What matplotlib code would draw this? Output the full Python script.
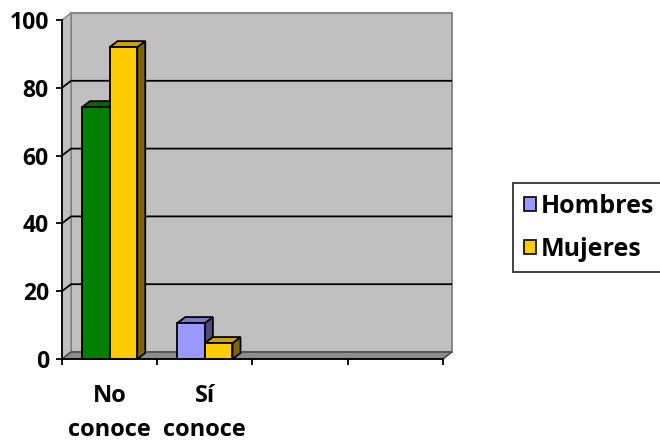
import matplotlib
matplotlib.use("Agg")
import matplotlib.pyplot as plt
from matplotlib.patches import Polygon, Patch

plt.rcParams['font.family'] = ['Open Sans', 'DejaVu Sans']
plt.rcParams['font.weight'] = 'bold'

categories = ["No\nconoce", "Sí\nconoce", "", ""]
series_names = ["Hombres", "Mujeres"]
hombres = [74.3, 10.6]
mujeres = [92.0, 4.7]
series_colors = ["#9999FF", "#FFCC00"]
side_colors = ["#4D4D80", "#806600"]
top_colors = ["#7A7ACC", "#CCA300"]
# the first Hombres bar carries its own point colour
point_override = {(0, 0): ("#008000", "#004000", "#006600")}
y_ticks = [0, 20, 40, 60, 80, 100]

W, H = 660, 443
fig = plt.figure(figsize=(W / 100, H / 100), dpi=100)
ax = fig.add_axes([62 / W, (H - 359) / H, 381 / W, 339 / H])
ncat = len(categories)
ax.set_xlim(0, ncat)
ax.set_ylim(0, 100)

# depth of the walls and of the bars, in data units
px_x = 381 / ncat
px_y = 339 / 100
wdx, wdy = 9 / px_x, 7 / px_y
bdx, bdy = 8 / px_x, 6 / px_y

wall_c = "#C0C0C0"
wall_edge = "#808080"
# back wall
ax.add_patch(Polygon([(wdx, wdy), (ncat + wdx, wdy), (ncat + wdx, 100 + wdy), (wdx, 100 + wdy)],
                     closed=True, facecolor=wall_c, edgecolor=wall_edge, lw=1.3, clip_on=False, zorder=1))
# side wall
ax.add_patch(Polygon([(0, 0), (wdx, wdy), (wdx, 100 + wdy), (0, 100)],
                     closed=True, facecolor=wall_c, edgecolor=wall_edge, lw=1.0, clip_on=False, zorder=1))
# floor
ax.add_patch(Polygon([(0, 0), (ncat, 0), (ncat + wdx, wdy), (wdx, wdy)],
                     closed=True, facecolor="#8C8C8C", edgecolor="#404040", lw=1.0, clip_on=False, zorder=1.5))

# gridlines on walls
for t in y_ticks[1:-1]:
    ax.plot([0, wdx, ncat + wdx], [t, t + wdy, t + wdy], color="black", lw=1.3,
            clip_on=False, zorder=2, solid_capstyle="butt")

# bars with their side and top faces
bw = 0.29
offsets = [-bw / 2, bw / 2]
for s, vals in enumerate([hombres, mujeres]):
    for c, v in enumerate(vals):
        front, side, top = series_colors[s], side_colors[s], top_colors[s]
        if (s, c) in point_override:
            front, side, top = point_override[(s, c)]
        xc = c + 0.5 + offsets[s]
        x0, x1 = xc - bw / 2, xc + bw / 2
        ax.fill([x1, x1 + bdx, x1 + bdx, x1], [0, bdy, v + bdy, v],
                facecolor=side, edgecolor="black", lw=1.3, zorder=3 + s, clip_on=False)
        ax.fill([x0, x1, x1 + bdx, x0 + bdx], [v, v, v + bdy, v + bdy],
                facecolor=top, edgecolor="black", lw=1.3, zorder=3 + s, clip_on=False)
        ax.bar(xc, v, width=bw, color=front, edgecolor="black", lw=1.3, zorder=3 + s, clip_on=False)

# axes
for sp in ["top", "right"]:
    ax.spines[sp].set_visible(False)
ax.spines["left"].set_linewidth(1.3)
ax.spines["bottom"].set_linewidth(1.3)
ax.spines["left"].set_zorder(6)
ax.spines["bottom"].set_zorder(6)
ax.set_yticks(y_ticks)
ax.tick_params(axis="y", length=4.5, width=1.3, pad=5, labelsize=16.5)
ax.set_xticks(range(ncat + 1))
ax.set_xticklabels([])
ax.tick_params(axis="x", which="major", length=4.5, width=1.3, direction="out")
ax.set_xticks([c + 0.5 for c in range(ncat)], minor=True)
ax.set_xticklabels(categories, minor=True, fontsize=17, linespacing=1.55)
ax.tick_params(axis="x", which="minor", length=0, pad=18)
for lab in ax.get_yticklabels() + ax.get_xticklabels(minor=True):
    lab.set_fontweight("bold")

handles = [Patch(facecolor=series_colors[i], edgecolor="black", lw=1.2, label=series_names[i])
           for i in range(len(series_names))]
leg = fig.legend(handles=handles, loc="upper left", bbox_to_anchor=(513 / W, 1 - 183 / H),
                 bbox_transform=fig.transFigure, borderaxespad=0, frameon=True, fancybox=False,
                 edgecolor="black", prop={"weight": "bold", "size": 18}, handlelength=0.48,
                 handleheight=0.48, handletextpad=0.2, labelspacing=0.72, borderpad=0.42)
leg.get_frame().set_linewidth(1.3)

fig.savefig("out.png", dpi=100)
